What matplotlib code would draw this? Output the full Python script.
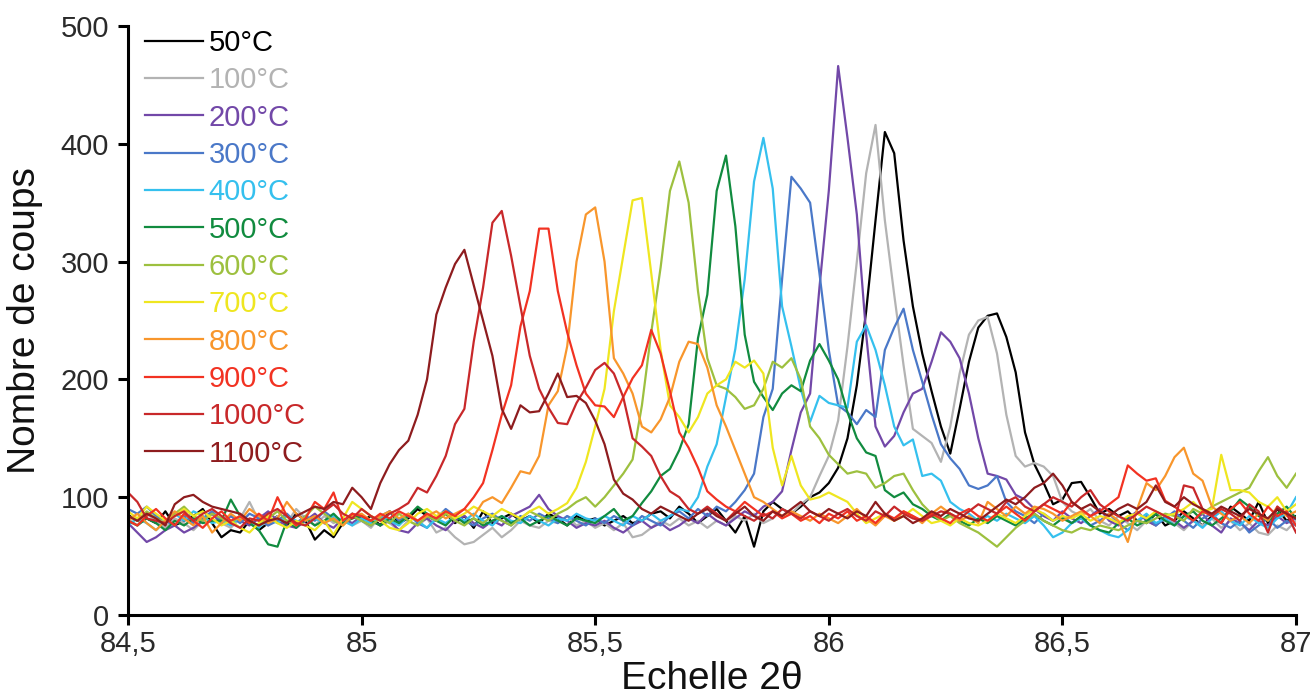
import numpy as np
import matplotlib
matplotlib.use("Agg")
import matplotlib.pyplot as plt

# 2-theta grid (step 0.02 deg)
two_theta = np.round(np.arange(84.5, 87.0001, 0.02), 2)

labels = ["50°C", "100°C", "200°C", "300°C", "400°C", "500°C",
          "600°C", "700°C", "800°C", "900°C", "1000°C", "1100°C"]
colors = ["#000000", "#B3B3B3", "#7248A8", "#4A78C8", "#35C0EE", "#118B3F",
          "#9DC03F", "#EFE620", "#F8962C", "#F23222", "#C8282A", "#8E1C1E"]

c50 = [85, 80, 82, 78, 88, 76, 80, 84, 90, 78, 66, 72, 70, 80, 72, 78, 84, 76, 86, 80, 64, 72, 66, 78, 86,
       80, 84, 76, 88, 78, 82, 90, 84, 80, 86, 78, 84, 74, 88, 78, 82, 86, 80, 84, 78, 86, 82, 76, 84, 80,
       82, 76, 80, 84, 78, 80, 86, 88, 82, 92, 86, 78, 84, 90, 80, 70, 84, 58, 88, 96, 90, 86, 92, 100, 104,
       112, 125, 150, 195, 258, 335, 410, 392, 318, 262, 222, 190, 160, 137, 175, 215, 244, 254, 256, 236, 206, 155, 128, 112, 94,
       98, 112, 113, 100, 86, 90, 84, 88, 80, 78, 86, 76, 80, 88, 82, 76, 84, 78, 92, 86, 80, 96, 78, 90, 80, 84]

c100 = [82, 76, 86, 80, 74, 82, 78, 72, 80, 86, 78, 74, 82, 96, 80, 76, 84, 78, 90, 82, 76, 84, 78, 82, 76,
        80, 74, 84, 78, 72, 80, 76, 82, 70, 74, 66, 60, 62, 68, 74, 66, 72, 80, 76, 74, 80, 78, 84, 76, 80,
        74, 78, 72, 78, 66, 68, 74, 80, 76, 82, 76, 80, 74, 80, 76, 84, 80, 86, 78, 82, 90, 86, 94, 100, 118,
        135, 165, 228, 300, 375, 416, 335, 272, 212, 158, 152, 146, 130, 160, 205, 238, 250, 253, 222, 170, 135, 126, 129, 126, 118,
        96, 88, 84, 90, 80, 76, 84, 78, 72, 80, 76, 84, 78, 72, 80, 76, 82, 74, 80, 72, 78, 70, 68, 76, 72, 80]

c200 = [78, 70, 62, 66, 72, 76, 70, 74, 80, 86, 78, 84, 80, 76, 82, 88, 80, 76, 74, 80, 86, 78, 74, 82, 78,
        84, 80, 76, 80, 72, 70, 78, 82, 76, 72, 80, 84, 78, 74, 80, 76, 84, 88, 92, 102, 90, 84, 80, 74, 78,
        76, 80, 74, 70, 76, 80, 74, 78, 72, 76, 82, 78, 86, 80, 76, 82, 88, 84, 92, 96, 105, 140, 172, 188, 278,
        360, 466, 405, 340, 238, 160, 143, 152, 172, 188, 192, 215, 240, 232, 218, 188, 150, 120, 118, 115, 102, 98, 90, 84, 80,
        88, 82, 78, 84, 90, 80, 76, 82, 88, 80, 76, 84, 80, 74, 80, 86, 76, 70, 82, 78, 72, 80, 76, 84, 78, 82]

c300 = [90, 86, 92, 84, 80, 76, 84, 78, 82, 88, 80, 84, 78, 86, 82, 76, 80, 86, 78, 84, 80, 88, 82, 78, 84,
        80, 76, 84, 88, 80, 86, 78, 74, 82, 90, 84, 80, 76, 82, 86, 80, 76, 84, 80, 86, 82, 78, 84, 80, 76,
        82, 78, 84, 80, 76, 84, 80, 76, 84, 88, 82, 90, 84, 92, 88, 96, 106, 120, 168, 192, 285, 372, 362, 350, 290,
        225, 178, 172, 162, 174, 168, 225, 244, 260, 225, 198, 170, 145, 133, 124, 110, 107, 110, 118, 96, 88, 84, 78, 86, 80,
        84, 78, 82, 76, 80, 86, 78, 72, 80, 84, 76, 82, 88, 80, 74, 82, 86, 78, 74, 80, 70, 76, 82, 74, 80, 76]

c400 = [76, 82, 78, 72, 80, 86, 80, 88, 84, 78, 80, 76, 84, 80, 74, 82, 78, 84, 80, 76, 82, 78, 84, 80, 76,
        82, 78, 84, 80, 76, 84, 80, 74, 82, 78, 84, 80, 86, 80, 76, 84, 80, 78, 84, 80, 76, 82, 80, 86, 82,
        80, 84, 80, 76, 84, 80, 86, 80, 84, 90, 88, 100, 126, 145, 185, 226, 285, 368, 405, 362, 262, 228, 192, 164, 186,
        180, 178, 176, 232, 246, 225, 195, 160, 144, 149, 118, 120, 114, 96, 90, 86, 80, 84, 80, 86, 82, 78, 84, 76, 66,
        70, 78, 82, 76, 72, 68, 66, 72, 80, 86, 78, 82, 76, 84, 80, 74, 82, 88, 80, 76, 84, 78, 74, 82, 86, 100]

c500 = [80, 76, 82, 78, 72, 80, 76, 82, 78, 80, 80, 98, 84, 78, 72, 60, 58, 80, 74, 82, 76, 80, 86, 78, 82,
        84, 80, 76, 82, 78, 84, 92, 86, 80, 76, 84, 78, 82, 76, 80, 84, 78, 82, 76, 80, 84, 80, 76, 82, 80,
        78, 84, 90, 80, 84, 95, 105, 118, 124, 140, 162, 235, 272, 360, 390, 330, 238, 198, 185, 174, 188, 195, 190, 216, 230,
        216, 200, 172, 150, 138, 135, 106, 100, 104, 94, 90, 84, 80, 86, 80, 76, 82, 78, 84, 80, 76, 82, 86, 80, 76,
        82, 78, 84, 76, 72, 70, 78, 82, 76, 80, 86, 80, 76, 84, 88, 80, 76, 82, 88, 98, 92, 84, 80, 86, 92, 82]

c600 = [84, 80, 88, 82, 78, 86, 92, 84, 80, 86, 82, 78, 84, 80, 76, 82, 88, 80, 76, 84, 92, 86, 80, 76, 84,
        80, 76, 82, 78, 86, 80, 76, 84, 80, 86, 80, 76, 82, 78, 84, 80, 76, 82, 88, 84, 80, 86, 90, 96, 100,
        92, 100, 110, 120, 132, 178, 240, 295, 360, 385, 350, 275, 218, 195, 192, 185, 175, 178, 192, 215, 210, 218, 200, 160, 150,
        136, 128, 120, 122, 120, 108, 112, 118, 120, 106, 94, 86, 80, 84, 78, 74, 70, 64, 58, 66, 74, 80, 86, 80, 76,
        72, 70, 74, 72, 76, 74, 72, 76, 80, 78, 82, 86, 84, 80, 90, 86, 92, 96, 100, 104, 108, 122, 134, 118, 108, 120]

c700 = [88, 82, 92, 86, 80, 84, 90, 84, 88, 82, 76, 80, 74, 70, 78, 84, 78, 74, 80, 76, 72, 80, 68, 82, 96,
        90, 84, 80, 74, 72, 78, 86, 90, 84, 88, 82, 86, 92, 88, 84, 90, 86, 82, 88, 92, 86, 90, 95, 108, 130,
        160, 192, 258, 305, 352, 354, 290, 225, 178, 168, 155, 168, 188, 195, 200, 215, 210, 216, 205, 142, 110, 135, 110, 98, 100,
        104, 100, 96, 86, 78, 82, 86, 80, 84, 90, 84, 78, 80, 76, 82, 78, 76, 80, 86, 82, 78, 84, 90, 86, 80,
        84, 82, 86, 80, 84, 82, 78, 84, 86, 82, 88, 84, 86, 90, 96, 88, 90, 136, 106, 106, 104, 96, 92, 100, 88, 94]

c800 = [80, 86, 78, 72, 80, 88, 82, 76, 84, 70, 78, 86, 80, 90, 84, 78, 82, 96, 86, 80, 84, 78, 82, 76, 84,
        86, 80, 84, 88, 82, 86, 80, 84, 88, 82, 86, 90, 84, 96, 100, 95, 108, 122, 120, 135, 178, 190, 228, 300, 340,
        346, 300, 218, 205, 188, 160, 155, 166, 185, 215, 232, 230, 210, 178, 160, 140, 120, 100, 96, 90, 84, 88, 84, 80, 86,
        82, 78, 84, 90, 82, 76, 84, 80, 88, 84, 78, 86, 92, 86, 80, 84, 78, 96, 90, 84, 92, 86, 92, 90, 86,
        80, 84, 88, 84, 78, 86, 80, 62, 90, 112, 106, 118, 134, 142, 120, 114, 92, 86, 80, 84, 78, 86, 80, 92, 84, 88]

c900 = [80, 76, 84, 90, 82, 76, 86, 80, 74, 82, 88, 80, 84, 78, 86, 80, 100, 84, 76, 82, 96, 90, 104, 80, 86,
        84, 80, 86, 82, 88, 84, 80, 86, 82, 88, 84, 90, 100, 112, 140, 170, 195, 245, 275, 328, 328, 275, 240, 212, 188,
        178, 177, 168, 185, 201, 212, 242, 222, 190, 155, 142, 125, 105, 98, 92, 88, 96, 90, 84, 88, 82, 86, 80, 84, 78,
        86, 82, 88, 80, 84, 78, 86, 82, 88, 84, 80, 86, 82, 78, 86, 90, 84, 80, 86, 92, 86, 80, 88, 94, 90,
        86, 96, 90, 84, 88, 94, 100, 127, 120, 114, 116, 97, 92, 86, 80, 88, 84, 78, 90, 96, 86, 80, 92, 84, 88, 76]

c1000 = [104, 96, 82, 80, 78, 84, 88, 80, 86, 90, 84, 78, 74, 82, 80, 86, 90, 84, 78, 76, 82, 88, 94, 86, 82,
         90, 84, 80, 86, 90, 95, 108, 104, 118, 135, 162, 175, 232, 278, 333, 343, 305, 262, 220, 192, 176, 163, 162, 180, 193,
         208, 214, 205, 185, 150, 143, 135, 118, 105, 100, 90, 86, 92, 86, 80, 88, 84, 80, 86, 82, 90, 86, 82, 88, 84,
         80, 86, 90, 84, 80, 88, 84, 92, 86, 82, 80, 84, 88, 86, 82, 88, 94, 90, 86, 96, 100, 92, 88, 94, 100,
         96, 92, 100, 106, 94, 88, 84, 80, 86, 92, 88, 84, 80, 110, 108, 90, 84, 90, 86, 80, 94, 88, 70, 92, 86, 70]

c1100 = [84, 80, 86, 82, 76, 94, 100, 102, 96, 92, 90, 88, 86, 80, 76, 80, 82, 78, 84, 88, 92, 90, 96, 94, 108,
         100, 90, 112, 128, 140, 148, 170, 200, 255, 278, 298, 310, 280, 250, 220, 175, 158, 178, 172, 173, 188, 205, 185, 186, 180,
         165, 145, 115, 103, 98, 90, 86, 92, 88, 84, 80, 86, 90, 84, 80, 86, 92, 84, 80, 88, 84, 90, 96, 88, 84,
         90, 86, 82, 88, 84, 96, 86, 80, 84, 78, 82, 88, 84, 90, 86, 82, 80, 86, 92, 98, 94, 100, 108, 112, 120,
         110, 96, 90, 94, 88, 84, 90, 94, 90, 96, 110, 96, 92, 100, 94, 90, 86, 92, 88, 84, 90, 86, 82, 90, 86, 82]

series = [c50, c100, c200, c300, c400, c500, c600, c700, c800, c900, c1000, c1100]

x_ticks = [84.5, 85.0, 85.5, 86.0, 86.5, 87.0]
x_tick_labels = ["84,5", "85", "85,5", "86", "86,5", "87"]
y_ticks = [0, 100, 200, 300, 400, 500]

plt.rcParams['font.family'] = ['Liberation Sans', 'DejaVu Sans']

fig = plt.figure(figsize=(13.15, 6.95), dpi=100)
ax = fig.add_axes([128 / 1315, 80 / 695, (1296 - 128) / 1315, (615 - 26) / 695])

for vals, lab, col in zip(series, labels, colors):
    ax.plot(two_theta, vals, color=col, lw=1.6, label=lab)

ax.set_xlim(84.5, 87.0)
ax.set_ylim(0, 500)
ax.set_xticks(x_ticks)
ax.set_xticklabels(x_tick_labels)
ax.set_yticks(y_ticks)

for s in ["top", "right"]:
    ax.spines[s].set_visible(False)
for s in ["left", "bottom"]:
    ax.spines[s].set_linewidth(2.2)
    ax.spines[s].set_color("black")

ax.tick_params(axis="both", direction="out", length=7.5, width=2.2, color="black",
               labelsize=21, labelcolor="#2a2a2a")
ax.tick_params(axis="y", pad=6)
ax.tick_params(axis="x", pad=3)

ax.set_ylabel("Nombre de coups", fontsize=28, color="#111111")
ax.yaxis.set_label_coords(-0.073, 0.5)
ax.set_xlabel("Echelle 2θ", fontsize=28, color="#111111")
ax.xaxis.set_label_coords(0.5, -0.078)

leg = ax.legend(loc="upper left", bbox_to_anchor=(17 / 1168, 0.995), frameon=False,
                fontsize=21, handlelength=2.0, handletextpad=0.18, labelspacing=0.32,
                borderpad=0, borderaxespad=0, labelcolor="linecolor")
for h in leg.get_lines():
    h.set_linewidth(1.6)

fig.savefig("out.png", dpi=100)
